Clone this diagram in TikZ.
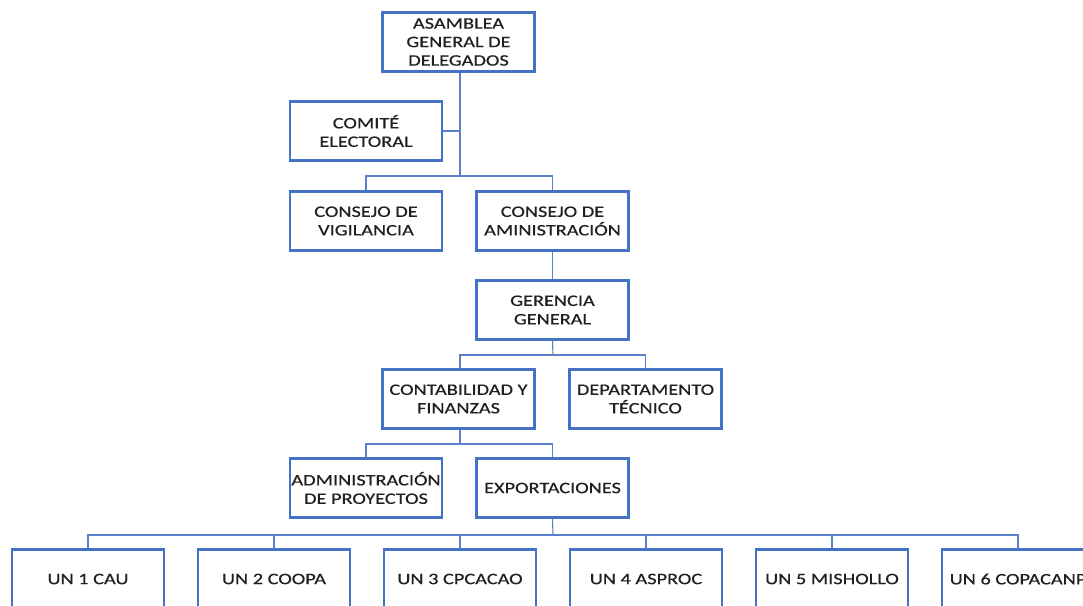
\documentclass[tikz,border=0pt]{standalone}
\usepackage{fontspec}
\setmainfont{Carlito}
\newfontfamily\orgfont[FakeStretch=1.27,FakeBold=0.5]{Carlito}
\definecolor{boxblue}{HTML}{4472C4}
\definecolor{lineblue}{HTML}{5B7FC8}
\definecolor{txt}{HTML}{202020}
\begin{document}
\begin{tikzpicture}[x=1pt,y=-1pt,
  orgbox/.style={draw=boxblue,line width=2.6pt,fill=white,minimum width=152pt,minimum height=59pt,
    align=center,inner sep=0pt,text=txt,font=\orgfont\fontsize{16pt}{18.5pt}\selectfont},
  link/.style={draw=lineblue,line width=1.1pt}]
\useasboundingbox (0,0) rectangle (1083,605);
\clip (0,0) rectangle (1083,605);
\coordinate (b1) at (460,176);
\coordinate (b2) at (553,355);
\coordinate (b3) at (460,444);
\coordinate (b4) at (553,535);
\node[orgbox] (asam) at (458.5,42) {ASAMBLEA\\GENERAL DE\\DELEGADOS};
\node[orgbox] (comite) at (366,131) {COMITÉ\\ELECTORAL};
\node[orgbox] (vig) at (366,221) {CONSEJO DE\\VIGILANCIA};
\node[orgbox] (adm) at (552.5,221) {CONSEJO DE\\AMINISTRACIÓN};
\node[orgbox] (ger) at (552.5,310) {GERENCIA\\GENERAL};
\node[orgbox] (cont) at (458.5,399) {CONTABILIDAD Y\\FINANZAS};
\node[orgbox] (dep) at (645.5,399) {DEPARTAMENTO\\TÉCNICO};
\node[orgbox] (proy) at (366,488) {ADMINISTRACIÓN\\DE PROYECTOS};
\node[orgbox] (exp) at (552.5,488) {EXPORTACIONES};
\node[orgbox] (un1) at (88,579) {UN 1 CAU};
\node[orgbox] (un2) at (274,579) {UN 2 COOPA};
\node[orgbox] (un3) at (460,579) {UN 3 CPCACAO};
\node[orgbox] (un4) at (646,579) {UN 4 ASPROC};
\node[orgbox] (un5) at (832,579) {UN 5 MISHOLLO};
\node[orgbox] (un6) at (1018,579) {UN 6 COPACANP};
\draw[link] (asam.south -| b1) -- (b1);
\draw[link] (comite.east) -- (comite.east -| b1);
\draw[link] (vig.north) |- (b1) -| (adm.north);
\draw[link] (adm.south) -- (ger.north);
\draw[link] (ger.south) -- (b2);
\draw[link] (cont.north -| b3) |- (b2) -| (dep.north);
\draw[link] (cont.south -| b3) -- (b3);
\draw[link] (proy.north) |- (b3) -| (exp.north);
\draw[link] (exp.south) -- (b4);
\draw[link] (un1.north) |- (b4) -| (un6.north);
\draw[link] (un2.north) -- (un2.north |- b4);
\draw[link] (un3.north) -- (un3.north |- b4);
\draw[link] (un4.north) -- (un4.north |- b4);
\draw[link] (un5.north) -- (un5.north |- b4);
\end{tikzpicture}
\end{document}
